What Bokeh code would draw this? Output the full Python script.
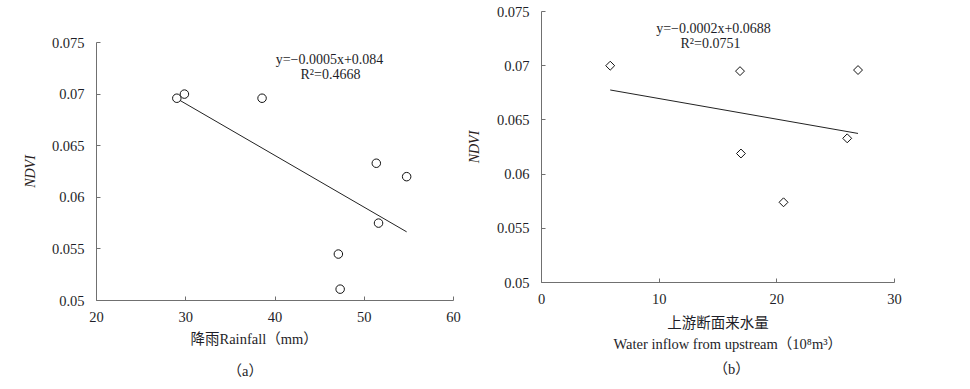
import numpy as np
from bokeh.plotting import figure
from bokeh.layouts import row, column
from bokeh.models import Label, FixedTicker, Range1d, Title
from bokeh.embed import file_html
from bokeh.resources import INLINE

# ---- data ----
rain = [29.0, 29.85, 38.55, 51.35, 54.75, 51.6, 47.1, 47.3]
ndvi_a = [0.0696, 0.0700, 0.0696, 0.0633, 0.0620, 0.0575, 0.0545, 0.0511]

inflow = [5.84, 16.87, 26.9, 16.95, 25.98, 20.57]
ndvi_b = [0.0700, 0.0695, 0.0696, 0.0619, 0.0633, 0.0574]

y_ticks = [0.05, 0.055, 0.06, 0.065, 0.07, 0.075]
y_tick_labels = ["0.05", "0.055", "0.06", "0.065", "0.07", "0.075"]
xa_ticks = [20, 30, 40, 50, 60]
xb_ticks = [0, 10, 20, 30]

eq_a = ["y=−0.0005x+0.084", "R²=0.4668"]
eq_b = ["y=−0.0002x+0.0688", "R²=0.0751"]
xlab_a = ["降雨Rainfall（mm）", "（a）"]
xlab_b = ["上游断面来水量", "Water inflow from upstream（10⁸m³）", "（b）"]
ylab = "NDVI"

SERIF = "'Liberation Serif', 'Noto Sans CJK SC'"
TXT = "#1e1e28"
AX = "#707070"


def style(p, xticks):
    for ax in (p.xaxis[0], p.yaxis[0]):
        ax.axis_line_color = AX
        ax.major_tick_line_color = AX
        ax.major_tick_in = 4
        ax.major_tick_out = 0
        ax.minor_tick_line_color = None
        ax.major_label_text_font = SERIF
        ax.major_label_text_font_size = "14.5px"
        ax.major_label_text_color = TXT
    p.xaxis[0].ticker = FixedTicker(ticks=xticks)
    p.yaxis[0].ticker = FixedTicker(ticks=y_ticks)
    p.yaxis[0].major_label_overrides = {t: l for t, l in zip(y_ticks, y_tick_labels)}
    p.xaxis[0].major_label_standoff = 11
    p.yaxis[0].major_label_standoff = 12
    p.yaxis[0].axis_label = ylab
    p.yaxis[0].axis_label_text_font = "Liberation Serif"
    p.yaxis[0].axis_label_text_font_style = "italic"
    p.yaxis[0].axis_label_text_font_size = "14px"
    p.yaxis[0].axis_label_text_color = "#2a1e22"
    p.xgrid.grid_line_color = None
    p.ygrid.grid_line_color = None
    p.outline_line_color = None
    p.background_fill_color = "white"
    p.border_fill_color = "white"


def add_label(p, text, x, y, size="14px"):
    p.add_layout(Label(x=x, y=y, x_units="screen", y_units="screen", text=text,
                       text_align="center", text_baseline="middle",
                       text_font=SERIF, text_font_size=size, text_color=TXT))


def add_title(p, text, offset, standoff):
    p.add_layout(Title(text=text, align="left", offset=offset, standoff=standoff,
                       text_font=SERIF, text_font_size="14.5px", text_font_style="normal",
                       text_color=TXT), "below")


# ---- panel (a) ----
p1 = figure(width=463, height=389, x_range=Range1d(20, 60), y_range=Range1d(0.05, 0.075),
            output_backend="svg", toolbar_location=None,
            min_border_left=96, min_border_right=10, min_border_top=42, min_border_bottom=89)
style(p1, xa_ticks)
p1.yaxis[0].axis_label_standoff = 11
ka, ba = np.polyfit(rain, ndvi_a, 1)
xa = np.array([min(rain), max(rain)])
p1.line(xa, ka * xa + ba, line_color="#222222", line_width=1)
p1.scatter(rain, ndvi_a, marker="circle", size=8.5, fill_color="white",
           line_color="#111111", line_width=1)
add_label(p1, eq_a[0], 233, 241)
add_label(p1, eq_a[1], 234, 226)
add_title(p1, xlab_a[0], 94, 8)
add_title(p1, xlab_a[1], 131, 20)

# ---- panel (b) ----
p2 = figure(width=507, height=389, x_range=Range1d(0, 30), y_range=Range1d(0.05, 0.075),
            output_backend="svg", toolbar_location=None,
            min_border_left=74, min_border_right=76, min_border_top=11, min_border_bottom=107)
style(p2, xb_ticks)
p2.yaxis[0].axis_label_standoff = 12
p2.xaxis[0].axis_label = xlab_b[0]
p2.xaxis[0].axis_label_standoff = 8
p2.xaxis[0].axis_label_text_font = SERIF
p2.xaxis[0].axis_label_text_font_style = "normal"
p2.xaxis[0].axis_label_text_font_size = "14.5px"
p2.xaxis[0].axis_label_text_color = TXT
kb, bb = np.polyfit(inflow, ndvi_b, 1)
xb = np.array([min(inflow), max(inflow)])
p2.line(xb, kb * xb + bb, line_color="#222222", line_width=1)
p2.scatter(inflow, ndvi_b, marker="square", angle=np.pi / 4, size=6.3, fill_color="white",
           line_color="#111111", line_width=1)
add_label(p2, eq_b[0], 172, 254)
add_label(p2, eq_b[1], 169, 239)
add_title(p2, xlab_b[1], 72, 0)
add_title(p2, xlab_b[2], 172, 14)

layout = row(column(p1), column(p2))
open("out.html", "w").write(file_html(layout, INLINE))
